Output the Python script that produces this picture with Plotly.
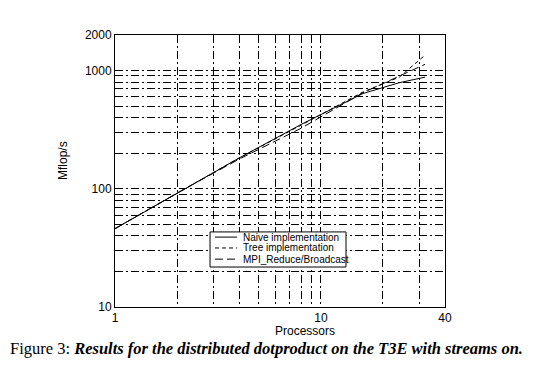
import plotly.graph_objects as go

# Data
processors = [1, 2, 4, 8, 16, 24, 32]
naive = [46, 92, 182, 350, 640, 790, 880]
tree = [46, 92, 182, 345, 660, 880, 1350]
mpi = [46, 92, 178, 325, 650, 900, 1130]
series_names = ["Naive implementation", "Tree implementation", "MPI_Reduce/Broadcast"]
series_dash = ["solid", "4px,3px", "8px,4px"]

x_major = [1, 10, 40]
x_minor = [2, 3, 4, 5, 6, 7, 8, 9, 20, 30]
y_major = [10, 100, 1000, 2000]
y_minor = [20, 30, 40, 50, 60, 70, 80, 90, 200, 300, 400, 500, 600, 700, 800, 900]

GRID_DASH = "8px,3px,2px,3px"

fig = go.Figure()
for vals, name, dash in zip([naive, tree, mpi], series_names, series_dash):
    fig.add_trace(go.Scatter(x=processors, y=vals, mode="lines", name=name,
                             line=dict(color="black", width=1, dash=dash)))

axis_font = dict(family="Liberation Sans, Arial, sans-serif", size=12, color="black")

fig.update_xaxes(type="log", range=[0, 1.60206],
                 tickmode="array", tickvals=x_major, ticktext=[str(v) for v in x_major],
                 ticks="", showgrid=True, gridcolor="black", gridwidth=1, griddash=GRID_DASH,
                 minor=dict(tickvals=x_minor, showgrid=True, gridcolor="black", gridwidth=1,
                            griddash=GRID_DASH, ticks=""),
                 showline=True, linecolor="black", linewidth=1, mirror=True,
                 zeroline=False, tickfont=axis_font)
fig.update_yaxes(type="log", range=[1, 3.30103],
                 tickmode="array", tickvals=y_major, ticktext=[str(v) for v in y_major],
                 ticks="", showgrid=True, gridcolor="black", gridwidth=1, griddash=GRID_DASH,
                 minor=dict(tickvals=y_minor, showgrid=True, gridcolor="black", gridwidth=1,
                            griddash=GRID_DASH, ticks=""),
                 showline=True, linecolor="black", linewidth=1, mirror=True,
                 zeroline=False, tickfont=axis_font)

# Custom compact legend (box, line samples, labels)
legend_font = dict(family="Liberation Sans, Arial, sans-serif", size=10, color="black")
shapes = [dict(type="rect", xref="paper", yref="paper", x0=0.288, x1=0.700, y0=0.147, y1=0.276,
               fillcolor="white", line=dict(color="black", width=1), layer="above")]
annotations = []
row_y = [0.257, 0.217, 0.176]
for ry, name, dash in zip(row_y, series_names, series_dash):
    shapes.append(dict(type="line", xref="paper", yref="paper", x0=0.303, x1=0.370, y0=ry, y1=ry,
                       line=dict(color="black", width=1, dash=dash), layer="above"))
    annotations.append(dict(text=name, xref="paper", yref="paper", x=0.382, y=ry,
                            xanchor="left", yanchor="middle", showarrow=False, font=legend_font))

annotations += [
    dict(text="Processors", xref="paper", yref="paper", x=0.575, y=-0.088,
         xanchor="center", yanchor="middle", showarrow=False, font=axis_font),
    dict(text="Mflop/s", xref="paper", yref="paper", x=-0.158, y=0.54,
         xanchor="center", yanchor="middle", showarrow=False, textangle=-90, font=axis_font),
    dict(text="Figure 3: <b><i>Results for the distributed dotproduct on the T3E with streams on.</i></b>",
         xref="paper", yref="paper", x=-0.324, y=-0.154, xanchor="left", yanchor="middle",
         showarrow=False,
         font=dict(family="Liberation Serif, Times New Roman, serif", size=16.5, color="black")),
]

fig.update_layout(
    width=530, height=360,
    margin=dict(l=107, r=93, t=27, b=61),
    paper_bgcolor="white", plot_bgcolor="white",
    font=axis_font,
    showlegend=False,
    shapes=shapes,
    annotations=annotations,
)

fig.write_html("out.html")
